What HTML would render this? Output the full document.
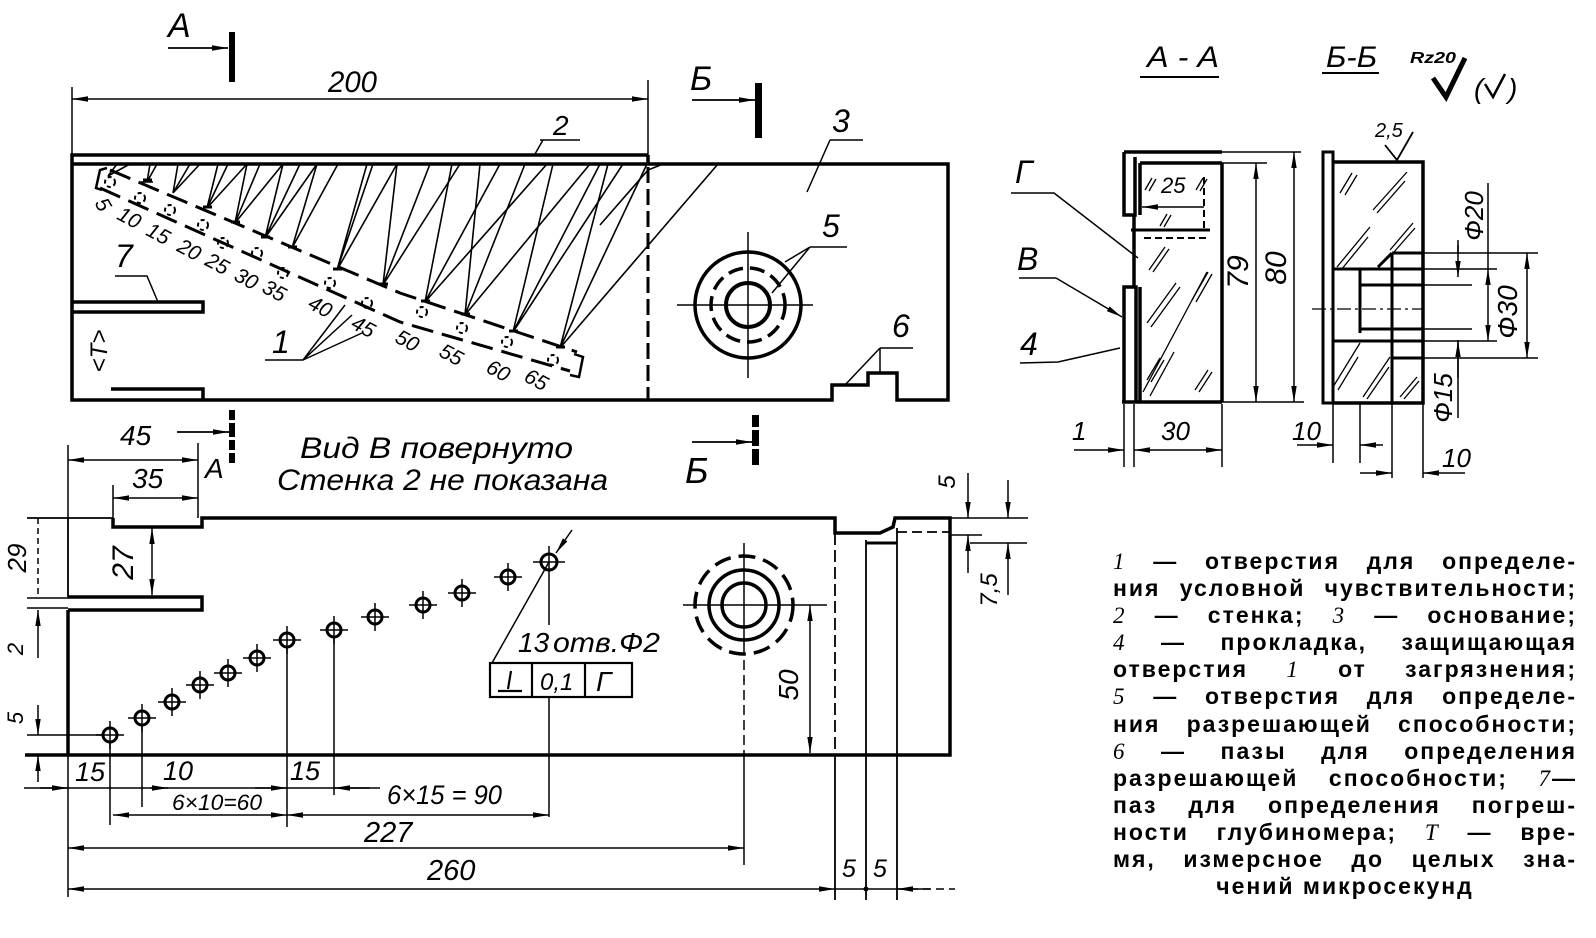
<!DOCTYPE html>
<html><head><meta charset="utf-8">
<style>
html,body{margin:0;padding:0;background:#fff;}
#wrap{position:relative;width:1596px;height:938px;overflow:hidden;background:#fff;}
svg{position:absolute;left:0;top:0;}
.t{font-family:"Liberation Sans","DejaVu Sans",sans-serif;font-style:italic;}
#legend{position:absolute;left:1113px;top:548px;width:464px;font-family:"Liberation Sans","DejaVu Sans",sans-serif;font-weight:bold;font-size:23px;line-height:27.1px;color:#000;letter-spacing:2px;}
#legend div{text-align:justify;text-align-last:justify;height:27.1px;overflow:hidden;}
#legend div.c{text-align:center;text-align-last:center;}
#legend i{font-family:"Liberation Serif",serif;font-weight:normal;}
</style></head><body><div id="wrap">
<svg width="1596" height="938" viewBox="0 0 1596 938" xmlns="http://www.w3.org/2000/svg">
<defs>
<marker id="a" viewBox="0 0 16 6" refX="16" refY="3" markerWidth="16" markerHeight="6" markerUnits="userSpaceOnUse" orient="auto-start-reverse"><path d="M0,0.3 L16,3 L0,5.7 Z" fill="#000"/></marker>
</defs>
<g fill="none" stroke="#000" stroke-linecap="butt">
<!-- ===== TOP VIEW ===== -->
<path d="M648,155 H72 V400 H832 V385 H868 V373 H897 V400 H948 V164 H72 M648,155 V164" stroke-width="3.5"/>
<path d="M648,167 V400" stroke-width="3" stroke-dasharray="16 6"/>
<path d="M648,80 V155 M72,87 V155" stroke-width="1.5"/>
<line x1="72" y1="99" x2="648" y2="99" stroke-width="1.5" marker-start="url(#a)" marker-end="url(#a)"/>
<path d="M72,302 H203 V312 H72" stroke-width="3.5"/>
<path d="M111,389 H203 V400" stroke-width="3.5"/>
<!-- section marks -->
<line x1="168" y1="48" x2="228" y2="48" stroke-width="1.8" marker-end="url(#a)"/>
<line x1="692" y1="100" x2="755" y2="100" stroke-width="1.8" marker-end="url(#a)"/>
<!-- leaders -->
<path d="M115,276 H147 L158,302" stroke-width="1.5"/>
<path d="M540,140 H580 M543,140 L535,154" stroke-width="1.5"/>
<path d="M830,140 H863 M830,140 L807,192" stroke-width="1.5"/>
<path d="M810,247 H847 M810,247 L785,262 M810,247 L772,293" stroke-width="1.5"/>
<path d="M880,348 H913 M880,348 L845,385 M880,348 V373" stroke-width="1.5"/>
<path d="M265,360 H303 L352,315 M303,360 L362,333 M303,360 L345,305" stroke-width="1.5"/>
<!-- circle 5 -->
<circle cx="748" cy="305" r="53" stroke-width="3.5"/>
<circle cx="748" cy="305" r="37" stroke-width="3.5" stroke-dasharray="15 7"/>
<circle cx="748" cy="305" r="22" stroke-width="4"/>
<path d="M677,305 H813 M748,232 V378" stroke-width="1.5"/>
<!-- hole strip -->
<path d="M110,170 L400,293 L577,352" stroke-width="3" stroke-dasharray="22 9"/>
<path d="M100,188 L400,322 L570,371" stroke-width="3" stroke-dasharray="22 9"/>
<path d="M107,168 L100,170 L96,188 L102,190" stroke-width="2.5"/>
<path d="M574,354 L583,357 L579,377 L570,375" stroke-width="2.5"/>
<g stroke-width="2" stroke-dasharray="4 3">
<circle cx="110" cy="182" r="5"/><circle cx="140" cy="198" r="5"/><circle cx="170" cy="210" r="5"/><circle cx="203" cy="225" r="5"/><circle cx="223" cy="243" r="5"/><circle cx="257" cy="253" r="5"/><circle cx="283" cy="273" r="5"/><circle cx="330" cy="283" r="5"/><circle cx="367" cy="303" r="5"/><circle cx="422" cy="312" r="5"/><circle cx="462" cy="328" r="5"/><circle cx="507" cy="342" r="5"/><circle cx="553" cy="360" r="5"/>
</g>
<g stroke-width="1.6">
<path d="M108,176 L117,164 M108,176 L130,164"/>
<path d="M147,182 L150,164 M147,182 L157,164 M141,182 H153"/>
<path d="M173,193 L178,164 M173,193 L190,164 M173,193 L200,164"/>
<path d="M207,208 L218,164 M207,208 L228,164 M207,208 L247,164"/>
<path d="M235,223 L247,164 M235,223 L260,164 M235,223 L283,164"/>
<path d="M265,238 L283,164 M265,238 L300,164 M265,238 L317,164"/>
<path d="M292,248 L317,164 M292,248 L338,164"/>
<path d="M337,270 L367,164 M337,270 L373,164 M337,270 L397,164"/>
<path d="M383,285 L397,164 M383,285 L430,164 M383,285 L460,164"/>
<path d="M425,302 L452,164 M425,302 L500,164 M425,302 L547,164"/>
<path d="M465,315 L480,164 M465,315 L525,164 M465,315 L590,164"/>
<path d="M513,332 L553,164 M513,332 L600,164 M513,332 L623,164"/>
<path d="M560,348 L608,164 M560,348 L647,164 M560,348 L718,164"/>
<path d="M600,225 L648,170 L663,164"/>
</g>
<g stroke-width="3">
<path d="M143,180 h9 M203,207 h9 M231,222 h9 M261,237 h9 M288,247 h9 M333,269 h9 M379,284 h9 M421,301 h9 M461,314 h9 M509,331 h9 M556,347 h9"/>
</g>

<!-- ===== SECTION A-A ===== -->
<path d="M1140,77 H1219" stroke-width="2"/>
<path d="M1322,73 H1379" stroke-width="2"/>
<path d="M1433,78 L1446,97 L1465,58" stroke-width="5"/>
<path d="M1485,84 L1493,97 L1505,74" stroke-width="2.5"/>
<path d="M1124,152 H1222 M1124,152 V215 H1135 V157 M1124,402 V287 H1136 V402 M1140,163 V215 M1134,215 V287 M1140,287 V402 M1222,163 V402 M1122,402 H1222 M1140,163 H1222" stroke-width="3.5"/>
<path d="M1222,152 H1301 M1222,163 H1267 M1222,402 H1304" stroke-width="1.5"/>
<path d="M1131,230 H1210" stroke-width="3"/>
<path d="M1144,238 H1208 M1204,177 V232" stroke-width="2" stroke-dasharray="7 4"/>
<line x1="1204" y1="207" x2="1142" y2="207" stroke-width="1.5" marker-end="url(#a)"/>
<line x1="1256" y1="163" x2="1256" y2="402" stroke-width="1.5" marker-start="url(#a)" marker-end="url(#a)"/>
<line x1="1294" y1="152" x2="1294" y2="402" stroke-width="1.5" marker-start="url(#a)" marker-end="url(#a)"/>
<path d="M1124,404 V467 M1134,404 V467 M1222,404 V467" stroke-width="1.5"/>
<line x1="1074" y1="450" x2="1124" y2="450" stroke-width="1.5" marker-end="url(#a)"/>
<line x1="1134" y1="450" x2="1222" y2="450" stroke-width="1.5" marker-start="url(#a)" marker-end="url(#a)"/>
<g stroke-width="1.3">
<path d="M1143,392 L1207,272 M1150,396 L1174,352 M1147,323 L1176,283 M1151,327 L1180,287 M1149,270 L1165,247 M1153,272 L1169,249"/>
<path d="M1145,190 L1152,178 M1149,191 L1156,179 M1196,190 L1203,178 M1200,191 L1207,179 M1160,226 L1167,214 M1164,227 L1171,215"/>
<path d="M1195,390 L1208,370 M1199,392 L1212,372 M1147,380 L1160,358 M1151,382 L1164,360 M1192,300 L1208,272 M1196,302 L1212,274"/>
</g>
<path d="M1011,193 H1054 L1138,258" stroke-width="1.5"/>
<path d="M1019,278 H1056" stroke-width="1.5"/>
<line x1="1056" y1="278" x2="1122" y2="317" stroke-width="1.5" marker-end="url(#a)"/>
<path d="M1020,363 L1058,362 L1120,348" stroke-width="1.5"/>

<!-- ===== SECTION Б-Б ===== -->
<path d="M1323,152 H1333 V403 H1323 Z" stroke-width="3"/>
<path d="M1333,162 H1423 V403 H1333" stroke-width="3.5"/>
<path d="M1392,253 H1423 M1378,267 L1392,253 M1333,269 H1423 M1360,269 V333 M1360,285 H1423 M1360,329 H1423 M1333,341 H1423 M1392,253 V403 M1392,358 H1423" stroke-width="3"/>
<path d="M1423,253 H1538 M1423,269 H1497 M1423,285 H1472 M1423,329 H1472 M1423,341 H1497 M1423,358 H1538" stroke-width="1.5"/>
<path d="M1312,309 H1423" stroke-width="1.3" stroke-dasharray="14 4 3 4"/>
<path d="M1413,132 L1397,160 L1385,145" stroke-width="1.8"/>
<g stroke-width="1.3">
<path d="M1340,193 L1352,173 M1345,195 L1357,175 M1373,210 L1407,172 M1377,213 L1405,181 M1337,267 L1370,227 M1341,270 L1368,237 M1390,250 L1413,223 M1394,252 L1415,228 M1333,387 L1360,343 M1338,390 L1358,357 M1363,397 L1390,357 M1367,399 L1389,367 M1400,397 L1417,377 M1404,399 L1419,381"/>
</g>
<path d="M1458,240 V253 M1458,340 V418" stroke-width="1.5"/>
<line x1="1458" y1="245" x2="1458" y2="277" stroke-width="1.5" marker-end="url(#a)"/>
<line x1="1458" y1="378" x2="1458" y2="341" stroke-width="1.5" marker-end="url(#a)"/>
<line x1="1488" y1="183" x2="1488" y2="269" stroke-width="1.5"/>
<line x1="1488" y1="269" x2="1488" y2="341" stroke-width="1.5" marker-start="url(#a)" marker-end="url(#a)"/>
<line x1="1527" y1="253" x2="1527" y2="358" stroke-width="1.5" marker-start="url(#a)" marker-end="url(#a)"/>
<path d="M1333,404 V463 M1360,404 V463 M1392,404 V478 M1423,404 V478" stroke-width="1.5"/>
<line x1="1297" y1="445" x2="1333" y2="445" stroke-width="1.5" marker-end="url(#a)"/>
<line x1="1383" y1="445" x2="1360" y2="445" stroke-width="1.5" marker-end="url(#a)"/>
<line x1="1360" y1="473" x2="1392" y2="473" stroke-width="1.5" marker-end="url(#a)"/>
<line x1="1465" y1="473" x2="1423" y2="473" stroke-width="1.5" marker-end="url(#a)"/>

<!-- ===== BOTTOM VIEW ===== -->
<path d="M27,518 H113 M68,518 V597" stroke-width="1.8"/>
<path d="M113,518 V527 H202 V518 H835 V533 H880 L893,527 L895,518 H950 V755 H25" stroke-width="3.5"/>
<path d="M68,597 H202 V610 H68 M68,610 V755" stroke-width="3.5"/>
<path d="M866,543 H897" stroke-width="3"/>
<path d="M835,533 V755" stroke-width="1.8" stroke-dasharray="12 5"/>
<path d="M835,755 V900 M866,540 V900 M897,528 V900" stroke-width="1.8"/>
<path d="M897,532 H950" stroke-width="1.8" stroke-dasharray="10 5"/>
<path d="M950,518 H1028 M950,535 H982 M970,543 H1027" stroke-width="1.5"/>
<line x1="968" y1="473" x2="968" y2="518" stroke-width="1.5" marker-end="url(#a)"/>
<line x1="968" y1="573" x2="968" y2="535" stroke-width="1.5" marker-end="url(#a)"/>
<line x1="1008" y1="480" x2="1008" y2="518" stroke-width="1.5" marker-end="url(#a)"/>
<line x1="1008" y1="595" x2="1008" y2="543" stroke-width="1.5" marker-end="url(#a)"/>
<!-- big hole -->
<circle cx="744" cy="605" r="49" stroke-width="3.5" stroke-dasharray="17 8"/>
<circle cx="744" cy="605" r="35" stroke-width="3.5"/>
<circle cx="744" cy="605" r="22" stroke-width="3.5"/>
<path d="M683,605 H827 M744,543 V655" stroke-width="1.5"/>
<path d="M744,660 V755" stroke-width="1.5" stroke-dasharray="10 5"/>
<path d="M744,755 V865" stroke-width="1.5"/>
<line x1="810" y1="605" x2="810" y2="753" stroke-width="1.5" marker-start="url(#a)" marker-end="url(#a)"/>
<!-- small holes -->
<g stroke-width="3">
<circle cx="110" cy="735" r="7"/><circle cx="142" cy="718" r="7"/><circle cx="172" cy="702" r="7"/><circle cx="200" cy="685" r="7"/><circle cx="228" cy="673" r="7"/><circle cx="257" cy="658" r="7"/><circle cx="287" cy="640" r="7"/><circle cx="334" cy="630" r="7"/><circle cx="375" cy="617" r="7"/><circle cx="423" cy="605" r="7"/><circle cx="462" cy="593" r="7"/><circle cx="508" cy="577" r="7"/><circle cx="549" cy="562" r="8"/>
</g>
<g stroke-width="1.5">
<path d="M96,735 h28 M110,721 v28 M128,718 h28 M142,704 v28 M158,702 h28 M172,688 v28 M186,685 h28 M200,671 v28 M214,673 h28 M228,659 v28 M243,658 h28 M257,644 v28 M273,640 h28 M287,626 v28 M320,630 h28 M334,616 v28 M361,617 h28 M375,603 v28 M409,605 h28 M423,591 v28 M448,593 h28 M462,579 v28 M494,577 h28 M508,563 v28 M533,562 h32 M549,546 v32"/>
<path d="M549,562 L492,663 M549,578 V625 M549,697 V817"/>
<path d="M110,742 V825 M142,725 V807 M287,648 V827 M334,638 V795"/>
<path d="M68,445 V518 M68,755 V897 M198,443 V518 M113,485 V518"/>
<path d="M27,598 H68 M27,608 H68 M27,735 H103"/>
<path d="M38,518 V597" stroke-dasharray="6 4"/>
</g>
<line x1="572" y1="530" x2="556" y2="553" stroke-width="1.5" marker-end="url(#a)"/>
<rect x="490" y="663" width="142" height="34" stroke-width="2.2"/>
<path d="M532,663 V697 M585,663 V697" stroke-width="2.2"/>
<path d="M511,671 L508,689 M498,691 H522" stroke-width="2.2"/>
<!-- dims bottom-left -->
<line x1="68" y1="460" x2="198" y2="460" stroke-width="1.5" marker-start="url(#a)" marker-end="url(#a)"/>
<line x1="113" y1="498" x2="198" y2="498" stroke-width="1.5" marker-start="url(#a)" marker-end="url(#a)"/>
<line x1="177" y1="432" x2="229" y2="432" stroke-width="1.8" marker-end="url(#a)"/>
<line x1="692" y1="442" x2="752" y2="442" stroke-width="1.8" marker-end="url(#a)"/>
<line x1="152" y1="528" x2="152" y2="595" stroke-width="1.5" marker-start="url(#a)" marker-end="url(#a)"/>
<line x1="38" y1="658" x2="38" y2="610" stroke-width="1.5" marker-end="url(#a)"/>
<line x1="38" y1="705" x2="38" y2="735" stroke-width="1.5" marker-end="url(#a)"/>
<line x1="38" y1="782" x2="38" y2="755" stroke-width="1.5" marker-end="url(#a)"/>
<!-- dim rows -->
<path d="M24,788 H380" stroke-width="1.5"/>
<line x1="40" y1="788" x2="68" y2="788" stroke-width="1.5" marker-end="url(#a)"/>
<line x1="150" y1="788" x2="168" y2="788" stroke-width="1.5" marker-end="url(#a)"/>
<line x1="255" y1="788" x2="287" y2="788" stroke-width="1.5" marker-end="url(#a)"/>
<line x1="370" y1="788" x2="334" y2="788" stroke-width="1.5" marker-end="url(#a)"/>
<line x1="113" y1="815" x2="287" y2="815" stroke-width="1.5" marker-start="url(#a)" marker-end="url(#a)"/>
<line x1="287" y1="815" x2="549" y2="815" stroke-width="1.5" marker-start="url(#a)" marker-end="url(#a)"/>
<line x1="68" y1="848" x2="744" y2="848" stroke-width="1.5" marker-start="url(#a)" marker-end="url(#a)"/>
<line x1="68" y1="889" x2="835" y2="889" stroke-width="1.5" marker-start="url(#a)" marker-end="url(#a)"/>
<path d="M897,889 H955" stroke-width="1.5" stroke-dasharray="8 5"/>
<line x1="930" y1="889" x2="897" y2="889" stroke-width="1.5" marker-end="url(#a)"/>
<path d="M835,889 H897" stroke-width="1.5"/>
</g>
<!-- filled bars -->
<g fill="#000" stroke="none">
<rect x="229" y="32" width="6" height="50"/>
<rect x="755" y="83" width="7" height="55"/>
<rect x="229" y="410" width="6" height="10"/><rect x="229" y="423" width="6" height="14"/><rect x="229" y="440" width="6" height="10"/><rect x="229" y="453" width="6" height="10"/>
<rect x="752" y="415" width="7" height="12"/><rect x="752" y="430" width="7" height="16"/><rect x="752" y="449" width="7" height="16"/>
<circle cx="866" cy="889" r="2.5"/>
</g>
<!-- ===== TEXT ===== -->
<g class="t" fill="#000" stroke="none">
<text x="168" y="37" font-size="34">А</text>
<text x="690" y="90" font-size="34">Б</text>
<text x="328" y="92" font-size="30" textLength="49" lengthAdjust="spacingAndGlyphs">200</text>
<text x="553" y="135" font-size="28">2</text>
<text x="832" y="132" font-size="32">3</text>
<text x="822" y="237" font-size="32">5</text>
<text x="892" y="337" font-size="32">6</text>
<text x="115" y="267" font-size="32">7</text>
<text x="272" y="353" font-size="32">1</text>
<text transform="translate(99,351) rotate(-90)" text-anchor="middle" dy="8" font-size="24">&lt;Т&gt;</text>
<g font-size="21" text-anchor="middle">
<text transform="translate(97,208) rotate(60)">5</text>
<text transform="translate(126,224) rotate(28)">10</text>
<text transform="translate(155,240) rotate(28)">15</text>
<text transform="translate(186,256) rotate(28)">20</text>
<text transform="translate(214,270) rotate(28)">25</text>
<text transform="translate(243,285) rotate(28)">30</text>
<text transform="translate(271,297) rotate(28)">35</text>
<text transform="translate(317,313) rotate(28)">40</text>
<text transform="translate(360,333) rotate(28)">45</text>
<text transform="translate(404,347) rotate(28)">50</text>
<text transform="translate(448,361) rotate(28)">55</text>
<text transform="translate(495,377) rotate(28)">60</text>
<text transform="translate(533,386) rotate(28)">65</text>
</g>
<!-- sections -->
<text x="1147" y="67" font-size="30" textLength="72" lengthAdjust="spacingAndGlyphs">А - А</text>
<text x="1326" y="67" font-size="30" textLength="51" lengthAdjust="spacingAndGlyphs">Б-Б</text>
<text x="1410" y="63" font-size="16" font-weight="bold" textLength="46" lengthAdjust="spacingAndGlyphs">Rz20</text>
<text x="1474" y="98" font-size="28">(</text>
<text x="1508" y="98" font-size="28">)</text>
<text x="1015" y="183" font-size="32">Г</text>
<text x="1017" y="270" font-size="32">В</text>
<text x="1020" y="355" font-size="32">4</text>
<text x="1161" y="193" font-size="22">25</text>
<text transform="translate(1238,272) rotate(-90)" text-anchor="middle" dy="10" font-size="30">79</text>
<text transform="translate(1276,268) rotate(-90)" text-anchor="middle" dy="10" font-size="30">80</text>
<text x="1072" y="440" font-size="26">1</text>
<text x="1161" y="440" font-size="26">30</text>
<text x="1375" y="137" font-size="20">2,5</text>
<text transform="translate(1474,216) rotate(-90)" text-anchor="middle" dy="9" font-size="26">Ф20</text>
<text transform="translate(1507,312) rotate(-90)" text-anchor="middle" dy="10" font-size="28">Ф30</text>
<text transform="translate(1443,398) rotate(-90)" text-anchor="middle" dy="9" font-size="26">Ф15</text>
<text x="1292" y="440" font-size="26">10</text>
<text x="1442" y="467" font-size="26">10</text>
<!-- bottom view -->
<text x="120" y="445" font-size="28">45</text>
<text x="132" y="488" font-size="28">35</text>
<text x="205" y="478" font-size="28">А</text>
<text x="685" y="483" font-size="36">Б</text>
<text x="300" y="458" font-size="30" textLength="273" lengthAdjust="spacingAndGlyphs">Вид В повернуто</text>
<text x="277" y="490" font-size="30" textLength="331" lengthAdjust="spacingAndGlyphs">Стенка 2 не показана</text>
<text transform="translate(123,563) rotate(-90)" text-anchor="middle" dy="10" font-size="30">27</text>
<text transform="translate(17,558) rotate(-90)" text-anchor="middle" dy="9" font-size="26">29</text>
<text transform="translate(15,649) rotate(-90)" text-anchor="middle" dy="8" font-size="22">2</text>
<text transform="translate(15,718) rotate(-90)" text-anchor="middle" dy="8" font-size="22">5</text>
<text transform="translate(947,482) rotate(-90)" text-anchor="middle" dy="8" font-size="24">5</text>
<text transform="translate(989,590) rotate(-90)" text-anchor="middle" dy="8" font-size="24">7,5</text>
<text transform="translate(789,685) rotate(-90)" text-anchor="middle" dy="9" font-size="28">50</text>
<text x="518" y="652" font-size="28">13</text>
<text x="553" y="652" font-size="28" textLength="107" lengthAdjust="spacingAndGlyphs">отв.Ф2</text>
<text x="540" y="690" font-size="24">0,1</text>
<text x="596" y="691" font-size="28">Г</text>
<text x="75" y="781" font-size="27">15</text>
<text x="163" y="780" font-size="27">10</text>
<text x="290" y="780" font-size="27">15</text>
<text x="172" y="810" font-size="22" textLength="90" lengthAdjust="spacingAndGlyphs">6×10=60</text>
<text x="387" y="804" font-size="27" textLength="115" lengthAdjust="spacingAndGlyphs">6×15 = 90</text>
<text x="364" y="842" font-size="29">227</text>
<text x="427" y="880" font-size="29">260</text>
<text x="842" y="877" font-size="25">5</text>
<text x="873" y="877" font-size="25">5</text>
</g>
</svg>
<div id="legend">
<div><i>1</i> — отверстия для определе-</div>
<div>ния условной чувствительности;</div>
<div><i>2</i> — стенка; <i>3</i> — основание;</div>
<div><i>4</i> — прокладка, защищающая</div>
<div>отверстия <i>1</i> от загрязнения;</div>
<div><i>5</i> — отверстия для определе-</div>
<div>ния разрешающей способности;</div>
<div><i>6</i> — пазы для определения</div>
<div>разрешающей способности; <i>7</i>—</div>
<div>паз для определения погреш-</div>
<div>ности глубиномера; <i>Т</i> — вре-</div>
<div>мя, измерсное до целых зна-</div>
<div class="c">чений микросекунд</div>
</div>
</div></body></html>
